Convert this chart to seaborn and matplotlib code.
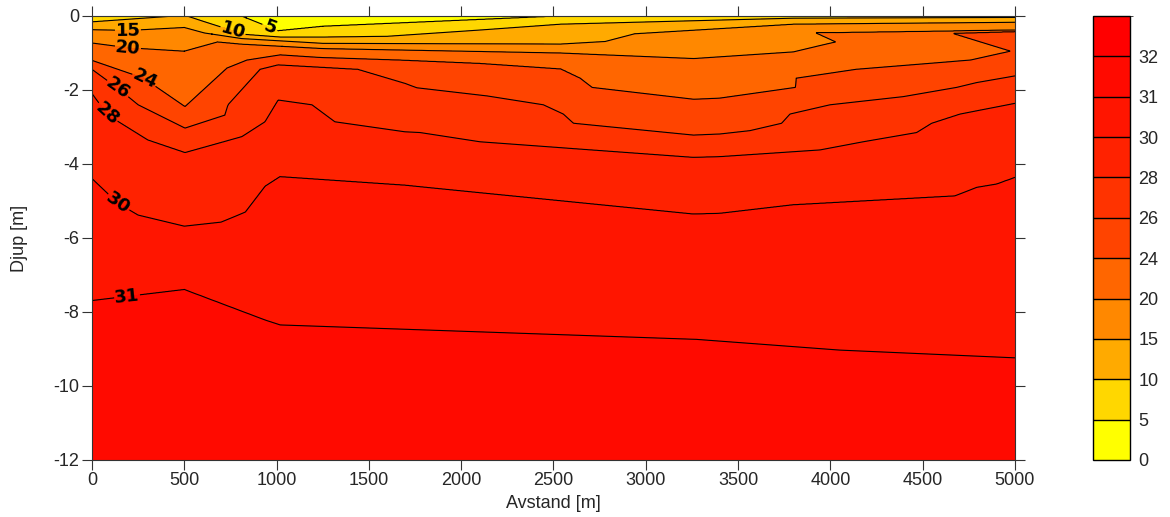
import numpy as np
import matplotlib
matplotlib.use("Agg")
import matplotlib.pyplot as plt
import seaborn as sns
from matplotlib.colors import BoundaryNorm, ListedColormap

# salinity classes of the section and their fill colours
levels = [0, 5, 10, 15, 20, 24, 26, 28, 30, 31, 32, 33]
band_colors = ['#FFFF00', '#FFD700', '#FFAA00', '#FF8800', '#FF6600', '#FF4400',
               '#FF3300', '#FF2200', '#FF1500', '#FF0A00', '#FF0000']
line_levels = [5, 10, 15, 20, 24, 26, 28, 30, 31]
cbar_ticks = [0, 5, 10, 15, 20, 24, 26, 28, 30, 31, 32]

# depth [m] of each isohaline along the section.
# values > 0 are above the surface, i.e. the isohaline is not present there
x05 = [0, 480, 700, 810, 1010, 1250, 2540, 3500, 5000]
z05 = [0.40, 0.30, 0.10, 0.0, -0.40, -0.28, 0.0, 0.15, 0.10]

x10 = [0, 250, 450, 485, 515, 600, 700, 830, 1020, 1260, 1600, 2100, 2540, 3800, 5000]
z10 = [-0.16, -0.07, 0.0, 0.02, 0.0, -0.14, -0.30, -0.50, -0.57, -0.57, -0.55, -0.38, -0.22, -0.06, -0.04]

x15 = [0, 200, 500, 610, 810, 1250, 2540, 2780, 2940, 3800, 5000]
z15 = [-0.37, -0.39, -0.31, -0.46, -0.61, -0.74, -0.76, -0.69, -0.48, -0.22, -0.17]

x20 = [0, 200, 500, 680, 810, 1250, 2540, 3260, 3800, 4027, 4028, 5000]
z20 = [-0.73, -0.86, -0.95, -0.70, -0.76, -0.88, -1.00, -1.15, -0.97, -0.70, -0.446, -0.38]

x24 = [0, 280, 504, 730, 840, 1020, 1235, 1670, 2100, 2540, 2645, 2710, 3260, 3400,
       3810, 3815, 4140, 4760, 4973, 4974, 5000]
z24 = [-1.20, -1.68, -2.45, -1.41, -1.19, -1.05, -1.12, -1.19, -1.28, -1.43, -1.68, -1.93,
       -2.25, -2.22, -1.93, -1.68, -1.44, -1.19, -0.95, -0.425, -0.42]

x26 = [0, 140, 250, 504, 720, 737, 910, 1008, 1440, 1695, 1760, 2140, 2445, 2553, 2608,
       3258, 3402, 3564, 3736, 3781, 3998, 4394, 4684, 4792, 5000]
z26 = [-1.44, -1.95, -2.40, -3.03, -2.68, -2.40, -1.44, -1.32, -1.44, -1.82, -1.94, -2.16,
       -2.40, -2.65, -2.90, -3.22, -3.19, -3.10, -2.90, -2.65, -2.40, -2.18, -1.93, -1.80, -1.62]

x28 = [0, 87, 303, 504, 812, 937, 1008, 1192, 1316, 1695, 1777, 2102, 3258, 3402, 3944,
       4177, 4467, 4548, 4702, 5000]
z28 = [-2.09, -2.68, -3.35, -3.69, -3.26, -2.86, -2.27, -2.40, -2.86, -3.13, -3.15, -3.40,
       -3.82, -3.80, -3.62, -3.40, -3.15, -2.90, -2.65, -2.36]

x30 = [0, 141, 250, 500, 700, 830, 937, 1018, 1695, 1813, 3258, 3402, 3797, 4675, 4792, 4900, 5000]
z30 = [-4.39, -5.06, -5.38, -5.68, -5.57, -5.30, -4.60, -4.34, -4.57, -4.63, -5.35, -5.33,
       -5.10, -4.86, -4.63, -4.54, -4.36]

x31 = [0, 500, 940, 1020, 3275, 4050, 5000]
z31 = [-7.69, -7.39, -8.22, -8.35, -8.74, -9.03, -9.24]

# small tongues where an isohaline folds back on itself
lens20_x = [3920, 4027]
lens20_top = [-0.45, -0.4457]
lens20_bot = [-0.45, -0.70]
lens24_x = [4665, 4973]
lens24_top = [-0.47, -0.424]
lens24_bot = [-0.47, -0.95]

top_z, top_s = 1.0, 2.0
bottom_z, bottom_s = -12.0, 31.7

# contour label positions (x [m], depth [m])
label_pos = [(765, -0.38), (965, -0.29), (195, -0.38), (195, -0.86), (287, -1.68),
             (141, -1.95), (87, -2.62), (141, -5.06), (190, -7.57)]

line_x = [x05, x10, x15, x20, x24, x26, x28, x30, x31]
line_z = [z05, z10, z15, z20, z24, z26, z28, z30, z31]

# grid the section column by column from the isohaline depths
xg = np.linspace(0, 5000, 1001)
zg = np.linspace(-12, 1, 1301)
S = np.zeros((len(zg), len(xg)))
for j, x in enumerate(xg):
    kz = [top_z, bottom_z]
    ks = [top_s, bottom_s]
    d = {}
    for lev, lx, lz in zip(line_levels, line_x, line_z):
        d[lev] = np.interp(x, lx, lz)
        kz.append(d[lev])
        ks.append(lev)
    if lens20_x[0] < x < lens20_x[1]:
        t = np.interp(x, lens20_x, lens20_top)
        b = np.interp(x, lens20_x, lens20_bot)
        kz += [t, (t + b) / 2, b, (b + d[20]) / 2]
        ks += [20, 21, 20, 19]
    if lens24_x[0] < x < lens24_x[1]:
        t = np.interp(x, lens24_x, lens24_top)
        b = np.interp(x, lens24_x, lens24_bot)
        kz += [t, (t + b) / 2, b, (b + d[24]) / 2]
        ks += [24, 25, 24, 23]
    kz = np.array(kz)
    ks = np.array(ks, dtype=float)
    order = np.argsort(kz)
    S[:, j] = np.interp(zg, kz[order], ks[order])

sns.set_style("ticks")
plt.rcParams['font.family'] = ['Liberation Sans', 'DejaVu Sans']
plt.rcParams['axes.unicode_minus'] = False

cmap = ListedColormap(sns.color_palette(band_colors))
norm = BoundaryNorm(levels, cmap.N)

fig = plt.figure(figsize=(11.7, 5.17), dpi=100)
ax = fig.add_axes([0.0786, 0.1103, 0.7889, 0.8588])
cax = fig.add_axes([0.9342, 0.1103, 0.0316, 0.8588])

cf = ax.contourf(xg, zg, S, levels=levels, cmap=cmap, norm=norm)
cs = ax.contour(xg, zg, S, levels=line_levels, colors='k', linewidths=0.8)
labels = ax.clabel(cs, fmt='%d', fontsize=13, inline=True, inline_spacing=3, manual=label_pos)
for t in labels:
    t.set_family('DejaVu Sans')
    t.set_fontweight('bold')

ax.set_xlim(0, 5000)
ax.set_ylim(-12, 0)
ax.set_xticks(np.arange(0, 5001, 500))
ax.set_yticks(np.arange(-12, 1, 2))
ax.tick_params(direction='out', length=7, width=0.8, labelsize=13, color='#333333',
               top=True, right=True, pad=2)
for sp in ax.spines.values():
    sp.set_linewidth(0.8)
    sp.set_color('#333333')
ax.set_xlabel('Avstand [m]', fontsize=13, labelpad=4)
ax.set_ylabel('Djup [m]', fontsize=13, labelpad=18)

cb = fig.colorbar(cf, cax=cax, ticks=cbar_ticks, drawedges=True)
cb.ax.tick_params(length=0, labelsize=13, pad=6)
cb.outline.set_linewidth(1)
cb.outline.set_edgecolor('k')
cb.dividers.set_color('k')
cb.dividers.set_linewidth(1)

fig.savefig('out.png', dpi=100)
